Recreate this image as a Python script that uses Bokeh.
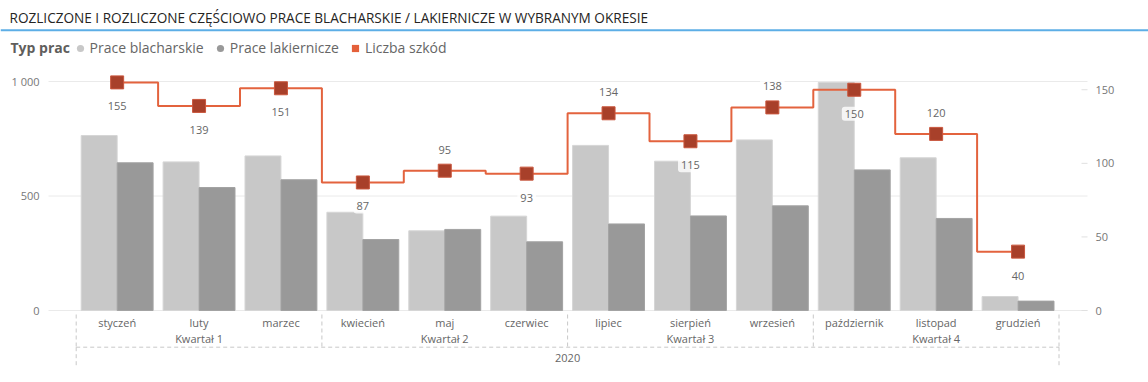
import numpy as np
from bokeh.plotting import figure
from bokeh.models import (Range1d, ColumnDataSource, Legend, LegendItem, Label, Span)
from bokeh.transform import dodge
from bokeh.core.properties import value
from bokeh.embed import file_html
from bokeh.resources import INLINE

# ---------------- data ----------------
title_text = "ROZLICZONE I ROZLICZONE CZĘŚCIOWO PRACE BLACHARSKIE / LAKIERNICZE W WYBRANYM OKRESIE"
legend_title = "Typ prac"
series_names = ["Prace blacharskie", "Prace lakiernicze", "Liczba szkód"]
months = ["styczeń", "luty", "marzec", "kwiecień", "maj", "czerwiec",
          "lipiec", "sierpień", "wrzesień", "październik", "listopad", "grudzień"]
quarters = ["Kwartał 1", "Kwartał 2", "Kwartał 3", "Kwartał 4"]
year_label = "2020"
prace_blacharskie = [764, 649, 675, 429, 348, 412, 721, 652, 745, 996, 667, 61]
prace_lakiernicze = [645, 537, 571, 310, 354, 300, 378, 413, 457, 614, 402, 41]
liczba_szkod = [155, 139, 151, 87, 95, 93, 134, 115, 138, 150, 120, 40]
left_ticks = [0, 500, 1000]
left_tick_labels = ["0", "500", "1 000"]
right_ticks = [0, 50, 100, 150]
right_tick_labels = ["0", "50", "100", "150"]

# label placement (style)
label_side = ["below", "below", "below", "below", "above", "below",
              "above", "below", "above", "below", "above", "below"]

FONT = "Open Sans"
C_LIGHT = "#C8C8C8"
C_DARK = "#999999"
C_LINE = "#E3633E"
C_MARK = "#A8402A"
C_SEP = "#C8C8C8"
C_GRID = "#EAEAEA"
C_TICK = "#777777"
C_CAT = "#666666"

# ---------------- geometry (pixels) ----------------
W, H = 1148, 382
PLOT_L, PLOT_R = 48, 1087      # plot area left / right edge
ZERO_Y, TOP_Y = 310, 81        # pixel rows of value 0 and of the axis maximum
CAT_X0, CAT_W = 75.7, 81.9     # left edge of first category, category width
LEFT_MAX = 1000
RIGHT_MAX = 155.6
PLOT_H = ZERO_Y - TOP_Y


def xd(px):
    return (px - CAT_X0) / CAT_W


def yd(py):
    return (ZERO_Y - py) * LEFT_MAX / PLOT_H


n = len(months)
per_q = n // len(quarters)
xpos = np.arange(n) + 0.5
q_centers = [per_q * i + per_q / 2 for i in range(len(quarters))]
q_bounds = [per_q * i for i in range(len(quarters) + 1)]

src = ColumnDataSource(dict(
    x=xpos, month=months, b=prace_blacharskie, l=prace_lakiernicze, s=liczba_szkod,
    lbl=[str(v) for v in liczba_szkod],
    dy=[24 if side == "below" else -21 for side in label_side],
))

p = figure(width=W, height=H, x_range=Range1d(xd(0), xd(W)),
           y_range=Range1d(yd(H), yd(0)),
           x_axis_type=None, y_axis_type=None, toolbar_location=None,
           output_backend="svg", min_border=0)
p.extra_y_ranges = {"right": Range1d(yd(H) * RIGHT_MAX / LEFT_MAX, yd(0) * RIGHT_MAX / LEFT_MAX)}
p.outline_line_color = None
p.background_fill_color = "white"

# grid lines (left value scale)
p.segment(x0=[xd(PLOT_L)] * len(left_ticks), x1=[xd(PLOT_R)] * len(left_ticks),
          y0=left_ticks, y1=left_ticks, line_color=C_GRID, line_width=1)

# left value axis labels
tick_kw = dict(text_baseline="middle", text_font=value(FONT), text_font_size="11px",
               text_color=C_TICK)
p.text(x=[xd(PLOT_L)] * len(left_ticks), y=left_ticks, text=left_tick_labels,
       x_offset=-9, text_align="right", **tick_kw)

# right value axis: inner ticks and labels
p.segment(x0=[xd(PLOT_R - 6)] * len(right_ticks), x1=[xd(PLOT_R)] * len(right_ticks),
          y0=right_ticks, y1=right_ticks, y_range_name="right",
          line_color="#E0E0E0", line_width=1)
p.text(x=[xd(PLOT_R)] * len(right_ticks), y=right_ticks, text=right_tick_labels,
       x_offset=8, text_align="left", y_range_name="right", **tick_kw)

# bars
bw = 0.439
p.vbar(x=dodge("x", -bw / 2), top="b", width=bw, source=src,
       fill_color=C_LIGHT, line_color="#D6D6D6", line_width=1)
p.vbar(x=dodge("x", bw / 2), top="l", width=bw, source=src,
       fill_color=C_DARK, line_color="#A3A3A3", line_width=1)

# category axis (months / quarters / year) with dashed separators
cat_kw = dict(text_align="center", text_baseline="middle", text_font=value(FONT),
              text_font_size="11px", text_color=C_CAT)
p.text(x=xpos, y=[0] * n, text=months, y_offset=12, **cat_kw)
p.text(x=q_centers, y=[0] * len(quarters), text=quarters, y_offset=28.3, **cat_kw)
p.text(x=[n / 2], y=[0], text=[year_label], y_offset=47.7, **cat_kw)
sep_kw = dict(line_color=C_SEP, line_width=1, line_dash="4 3")
p.segment(x0=q_bounds, x1=q_bounds, y0=[yd(ZERO_Y + 4)] * len(q_bounds),
          y1=[yd(ZERO_Y + 36.7)] * len(q_bounds), **sep_kw)
p.segment(x0=[0, n], x1=[0, n], y0=[yd(ZERO_Y + 36.7)] * 2,
          y1=[yd(ZERO_Y + 56.7)] * 2, **sep_kw)
p.segment(x0=[0], x1=[n], y0=[yd(ZERO_Y + 36.7)], y1=[yd(ZERO_Y + 36.7)], **sep_kw)

# line with markers
p.step(x="x", y="s", source=src, mode="center", y_range_name="right",
       line_color=C_LINE, line_width=2)
p.scatter(x="x", y="s", source=src, marker="square", size=13, y_range_name="right",
          fill_color=C_MARK, line_color="#C9563D", line_width=1)

# data labels
try:
    p.text(x="x", y="s", text="lbl", source=src, y_range_name="right", y_offset="dy",
           text_align="center", text_baseline="middle", text_font=value(FONT),
           text_font_size="11px", text_color=C_CAT,
           background_fill_color="white", background_fill_alpha=0.8,
           padding=3, border_radius=3)
except Exception:
    p.text(x="x", y="s", text="lbl", source=src, y_range_name="right", y_offset="dy",
           text_align="center", text_baseline="middle", text_font=value(FONT),
           text_font_size="11px", text_color=C_CAT)

# ---------------- header: title, rule, legend ----------------
p.add_layout(Label(x=9, y=H - 17, x_units="screen", y_units="screen",
                   text=title_text, text_font=FONT, text_font_size="13.6px",
                   text_color="#252423", text_baseline="middle"))
p.add_layout(Span(location=yd(29.7), dimension="width", line_color="#5DAEE6", line_width=2))
p.add_layout(Label(x=10, y=H - 47.3, x_units="screen", y_units="screen",
                   text=legend_title, text_font=FONT, text_font_size="14px",
                   text_font_style="bold", text_color="#605E5C", text_baseline="middle"))
r_l1 = p.scatter(x=[np.nan], y=[np.nan], marker="circle", fill_color=C_LIGHT, line_color=None)
r_l2 = p.scatter(x=[np.nan], y=[np.nan], marker="circle", fill_color=C_DARK, line_color=None)
r_l3 = p.scatter(x=[np.nan], y=[np.nan], marker="square", fill_color="#E4603A", line_color=None)
leg = Legend(items=[LegendItem(label=series_names[0], renderers=[r_l1]),
                    LegendItem(label=series_names[1], renderers=[r_l2]),
                    LegendItem(label=series_names[2], renderers=[r_l3])],
             location=(69.5, H - 57.3), orientation="horizontal",
             glyph_width=20, glyph_height=18, label_standoff=0, spacing=6,
             padding=0, margin=0, border_line_color=None, background_fill_alpha=0,
             label_text_font=FONT, label_text_font_size="14px", label_text_color="#666666")
p.add_layout(leg)

open("out.html", "w").write(file_html(p, INLINE))
